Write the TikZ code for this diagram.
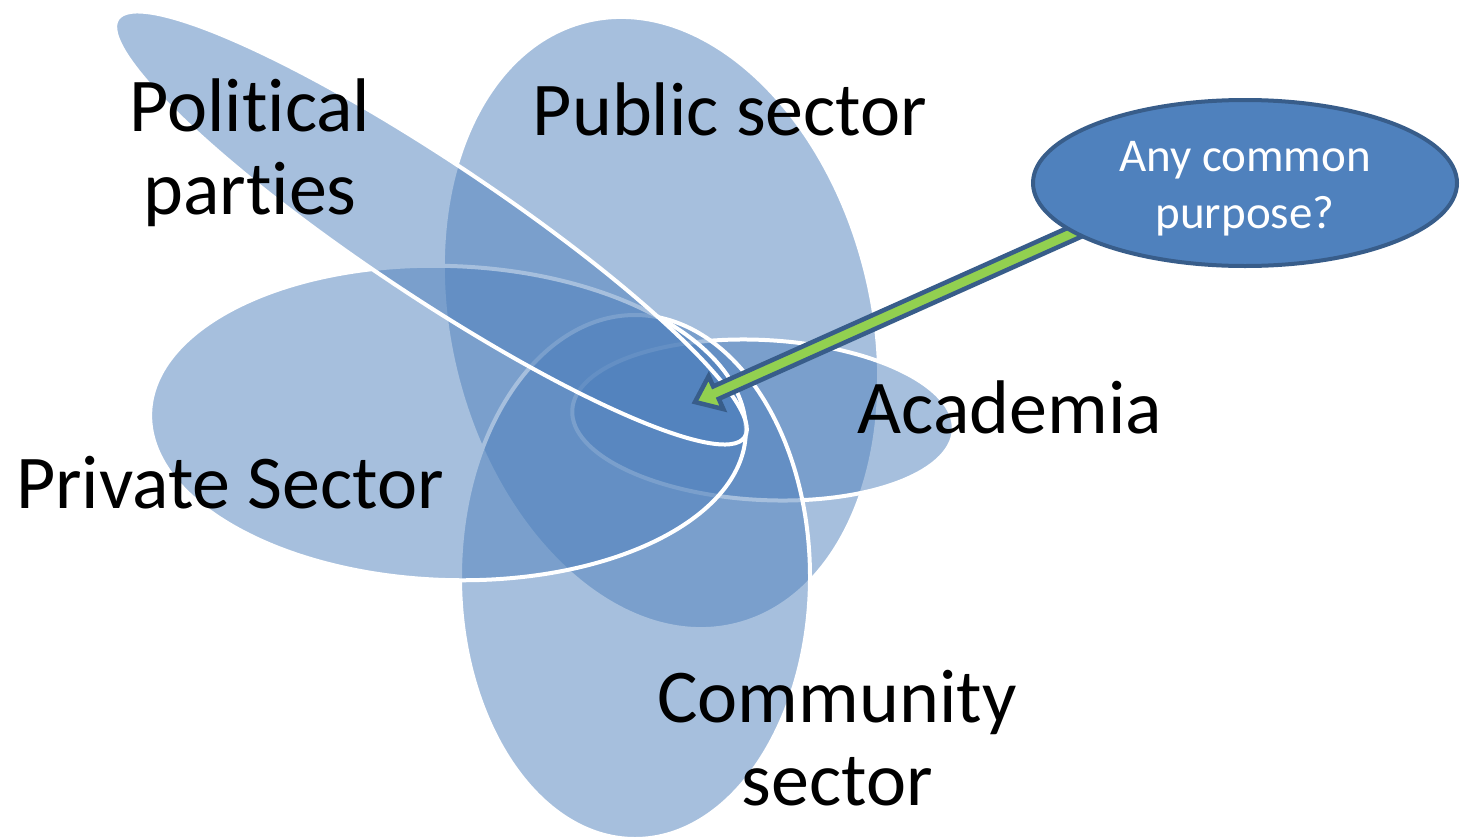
\documentclass[tikz,border=0pt]{standalone}
\usepackage{fontspec}
\setmainfont{Carlito}[Ligatures={NoCommon,NoContextual},Contextuals=NoAlternate]
\usetikzlibrary{calc,shapes.geometric}
\definecolor{accent}{HTML}{4F81BD}
\definecolor{accentdark}{HTML}{385D8A}
\definecolor{arrowgreen}{HTML}{92D050}
\begin{document}
\begin{tikzpicture}[x=1pt,y=-1pt,
  sector/.style={fill=accent, fill opacity=0.5, draw=white, draw opacity=1, line width=4pt},
  lbl/.style={font=\fontsize{76}{83}\selectfont, align=center, inner sep=0pt, text=black},
  calloutbox/.style={ellipse, draw=accentdark, line width=4pt, fill=accent, minimum width=424pt, minimum height=166pt, inner sep=0pt,
     text=white, align=center, font=\fontsize{47}{57}\selectfont},
  blockarrow/.style={draw=accentdark, fill=arrowgreen, line width=4.5pt, line join=miter},
]
\useasboundingbox (0,0) rectangle (1466,838);
\fill[white] (0,0) rectangle (1466,838);

% sector ellipses, in drawing order
\coordinate (cpub) at (661,323);
\coordinate (cacad) at (763,420);
\coordinate (ccomm) at (635,577);
\coordinate (cpriv) at (448,423);
\coordinate (cpol) at (431,228);

\draw[sector, rotate around={14:(cpub)}] (cpub) ellipse [x radius=211pt, y radius=311pt];
\draw[sector, rotate around={-3:(cacad)}] (cacad) ellipse [x radius=191pt, y radius=80pt];
\draw[sector] (ccomm) ellipse [x radius=175pt, y radius=262pt];
\draw[sector, rotate around={-2:(cpriv)}] (cpriv) ellipse [x radius=298pt, y radius=157pt];
\draw[sector, rotate around={-33.7:(cpol)}] (cpol) ellipse [x radius=377pt, y radius=67pt];

% labels
\node[lbl] (polparties) at (250,152.5) {Political\\parties};
\node[lbl, anchor=base] (pubsector) at (730,135) {Public sector};
\node[lbl, anchor=base] (privsector) at (230,508) {Private Sector};
\node[lbl, anchor=base] (academia) at (1010,433) {Academia};
\node[lbl] (commsector) at (837,738) {Community\\sector};

% arrow from the callout to the common centre
\coordinate (hub) at (695,402);
\coordinate (callc) at (1245,183);
\coordinate (arrowstart) at (1093,224);
\coordinate (hb) at ($(hub)!23pt!(arrowstart)$);
\coordinate (hl) at ($(hb)!18pt!90:(arrowstart)$);
\coordinate (hr) at ($(hb)!18pt!-90:(arrowstart)$);
\coordinate (sl) at ($(hb)!6.8pt!90:(arrowstart)$);
\coordinate (sr) at ($(hb)!6.8pt!-90:(arrowstart)$);
\coordinate (el) at ($(arrowstart)!6.8pt!-90:(hub)$);
\coordinate (er) at ($(arrowstart)!6.8pt!90:(hub)$);
\draw[blockarrow] (hub) -- (hl) -- (sl) -- (el) -- (er) -- (sr) -- (hr) -- cycle;

\node[calloutbox] (callout) at (callc) {\rule{0pt}{41pt}Any common\\purpose?};
\end{tikzpicture}
\end{document}
